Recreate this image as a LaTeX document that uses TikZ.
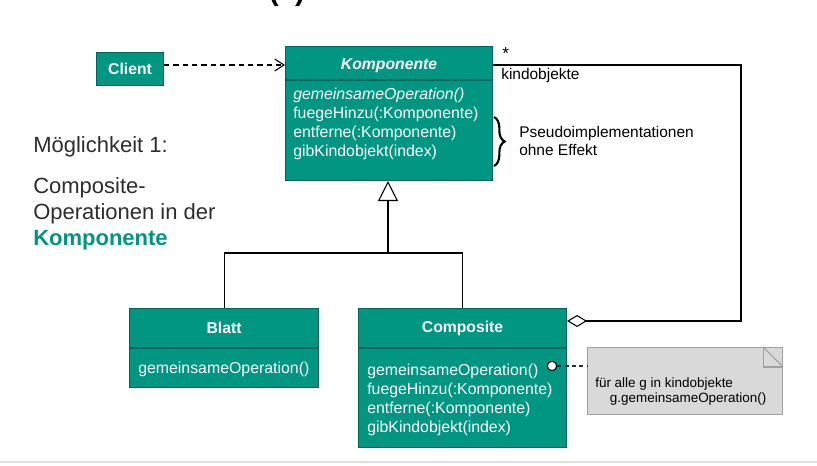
\documentclass[tikz,border=0pt]{standalone}
\usepackage{fontspec}
\setmainfont{Liberation Sans}
\usetikzlibrary{arrows.meta,decorations.pathreplacing,calc}
\definecolor{tealf}{RGB}{0,150,130}
\definecolor{teald}{RGB}{0,100,88}
\definecolor{notef}{RGB}{217,217,217}
\definecolor{noted}{RGB}{160,160,160}
\definecolor{darktext}{RGB}{45,45,45}
\tikzset{
  cls/.style={draw=teald, fill=tealf, line width=0.8pt, inner sep=0pt, anchor=north west},
  clstitle/.style={text=white, font=\bfseries\fontsize{11.8}{13}\selectfont, inner sep=0pt},
  ops/.style={text=white, font=\fontsize{11.9}{14.2}\selectfont, align=left, anchor=north west, inner sep=0pt},
  small/.style={font=\fontsize{11.6}{13.5}\selectfont, inner sep=0pt, align=left},
  bigtext/.style={font=\fontsize{16.5}{19}\selectfont, text=darktext, inner sep=0pt, anchor=west},
  line/.style={draw=black, line width=0.8pt}
}
\begin{document}
\begin{tikzpicture}[x=0.75pt,y=-0.75pt]
\useasboundingbox (0,0) rectangle (817,466);

% cut-off title fragment
\begin{scope}
\clip (0,0) rectangle (817,466);
\node[font=\bfseries\fontsize{22}{24}\selectfont, anchor=base, inner sep=0pt] (title) at (287,1) {(1)};
\end{scope}

% Client
\node[cls, minimum width=50.25pt, minimum height=24.75pt] (client) at (96,52) {};
\node[clstitle] (clientt) at (client.center) {Client};

% Komponente
\node[cls, minimum width=155.25pt, minimum height=100.5pt] (komp) at (285,46) {};
\node[clstitle, font=\bfseries\itshape\fontsize{11.8}{13}\selectfont] (kompt) at ($(komp.north)+(0,20)$) {Komponente};
\draw[teald, line width=0.8pt] (komp.west |- 0,80) -- (komp.east |- 0,80);
\node[ops] (kompops) at (293,88) {\textit{gemeinsameOperation()}\\fuegeHinzu(:Komponente)\\entferne(:Komponente)\\gibKindobjekt(index)};

% Blatt
\node[cls, minimum width=141.75pt, minimum height=59.25pt] (blatt) at (129,308) {};
\node[clstitle] (blattt) at ($(blatt.north)+(0,20)$) {Blatt};
\draw[teald, line width=0.8pt] (blatt.west |- 0,348) -- (blatt.east |- 0,348);
\node[ops] (blattops) at (138,362) {gemeinsameOperation()};

% Composite
\node[cls, minimum width=156pt, minimum height=104.25pt] (comp) at (358,308) {};
\node[clstitle] (compt) at ($(comp.north)+(0,20)$) {Composite};
\draw[teald, line width=0.8pt] (comp.west |- 0,348) -- (comp.east |- 0,348);
\node[ops] (compops) at (367,364) {gemeinsameOperation()\\fuegeHinzu(:Komponente)\\entferne(:Komponente)\\gibKindobjekt(index)};

% Note
\node[draw=noted, fill=notef, line width=0.8pt, minimum width=146.25pt, minimum height=50.25pt, anchor=north west, inner sep=0pt] (note) at (587,347) {};
\draw[noted, line width=0.8pt] ($(note.north east)+(-20,0)$) -- ++(0,20) -- ++(20,0);
\draw[noted, line width=0.8pt] ($(note.north east)+(-20,0)$) -- ++(20,20);
\node[small, font=\fontsize{10.1}{11.3}\selectfont, anchor=north west] (notetext) at (595,377) {für alle g in kindobjekte\\\hspace*{11pt}g.gemeinsameOperation()};

% Lollipop connection
\node[circle, draw=black, fill=white, line width=0.8pt, minimum size=7pt, inner sep=0pt] (lol) at (552,366) {};
\draw[dashed, dash pattern=on 3pt off 2.5pt, draw=darktext, line width=0.9pt] (lol) -- (note.west |- lol);

% Client -> Komponente dependency
\draw[line, dashed, dash pattern=on 4pt off 3pt, -{Straight Barb[length=7pt,width=9pt]}] (client.east |- 0,65) -- (komp.west |- 0,65);

% Association with aggregation diamond
\coordinate (c1) at (741,65);
\coordinate (c2) at (741,321);
\draw[line, -{Diamond[open, fill=white, length=15pt, width=9pt]}] (komp.east |- c1) -- (c1) -- (c2) -- (comp.east |- c2);
\node[small, anchor=west, font=\fontsize{13}{14}\selectfont] (star) at (502,54) {*};
\node[small, anchor=west] (kindlabel) at (501,76) {kindobjekte};

% Brace
\draw[decorate, decoration={brace, amplitude=8pt}, line width=1.6pt] (494,117) -- (494,166);
\node[small, anchor=north west] (pseudo) at (519,126) {Pseudoimplementationen\\ohne Effekt};

% Inheritance
\coordinate (j) at (388,253);
\coordinate (jl) at (blatt.north |- j);
\coordinate (jr) at (comp.north |- j);
\draw[line] (blatt.north) -- (jl) -- (jr) -- (comp.north);
\draw[line, -{Triangle[open, fill=white, length=15pt, width=15pt]}] (j) -- (komp.south -| j);

% Left texts
\node[bigtext] (moegl) at (33,147) {Möglichkeit 1:};
\node[bigtext] (cl1) at (33,188) {Composite-};
\node[bigtext] (cl2) at (33,214) {Operationen in der};
\node[bigtext, text=tealf, font=\bfseries\fontsize{16.5}{19}\selectfont] (cl3) at (33,240) {Komponente};

% bottom rule
\draw[black!12, line width=1.5pt] (0,462) -- (817,462);
\end{tikzpicture}
\end{document}
